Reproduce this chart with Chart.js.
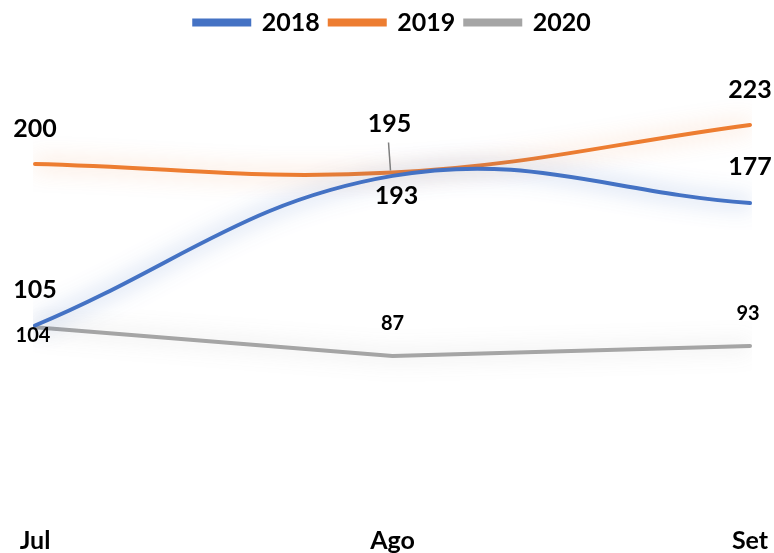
<!DOCTYPE html>
<html>
<head>
<meta charset="utf-8">
<script src="https://cdn.jsdelivr.net/npm/chart.js@4/dist/chart.umd.min.js"></script>
<style>
  html, body { margin:0; padding:0; background:#fff; }
</style>
</head>
<body>
<canvas id="chart" width="774" height="553"></canvas>
<script>
// dati
const months = ['Jul', 'Ago', 'Set'];
const seriesNames = ['2018', '2019', '2020'];
const values2018 = [105, 193, 177];
const values2019 = [200, 195, 223];
const values2020 = [104, 87, 93];

const colors = ['#4472C4', '#ED7D31', '#A5A5A5'];
const glows = ['rgba(68,114,196,0.7)', 'rgba(237,125,49,0.5)', 'rgba(120,120,120,0.35)'];
const FONT = 'Lato, "Open Sans", sans-serif';

// dove mettere le etichette rispetto al punto (dx, dy)
const labelOffsets = [
    [[0, -36], [4, 20], [0, -36]],
    [[0, -35], [-3, -49], [0, -35]],
    [[-2, 8], [0, -33], [-2, -32]]
];
const labelSizes = [25, 25, 20];

const glowPlugin = {
    id: 'glow',
    beforeDatasetDraw(chart, args) {
        const ctx = chart.ctx;
        ctx.save();
        ctx.shadowColor = glows[args.index];
        ctx.shadowBlur = 22;
    },
    afterDatasetDraw(chart) {
        chart.ctx.restore();
    }
};

const labelPlugin = {
    id: 'valueLabels',
    afterDatasetsDraw(chart) {
        const ctx = chart.ctx;
        ctx.save();
        ctx.fillStyle = '#000';
        ctx.textAlign = 'center';
        ctx.textBaseline = 'middle';
        chart.data.datasets.forEach((ds, i) => {
            const meta = chart.getDatasetMeta(i);
            ctx.font = 'bold ' + labelSizes[i] + 'px ' + FONT;
            meta.data.forEach((pt, j) => {
                const [dx, dy] = labelOffsets[i][j];
                ctx.fillText(ds.data[j], pt.x + dx, pt.y + dy);
                // linea guida per il 195
                if (i === 1 && j === 1) {
                    ctx.strokeStyle = '#7f7f7f';
                    ctx.lineWidth = 1.5;
                    ctx.beginPath();
                    ctx.moveTo(pt.x - 4, pt.y - 30);
                    ctx.lineTo(pt.x - 2, pt.y - 2);
                    ctx.stroke();
                }
            });
        });
        ctx.restore();
    }
};

new Chart(document.getElementById('chart'), {
    type: 'line',
    data: {
        labels: months,
        datasets: [
            { label: seriesNames[0], data: values2018, borderColor: colors[0], backgroundColor: colors[0], borderWidth: 4, tension: 0.4, pointRadius: 0, borderCapStyle: 'round' },
            { label: seriesNames[1], data: values2019, borderColor: colors[1], backgroundColor: colors[1], borderWidth: 4, tension: 0.4, pointRadius: 0, borderCapStyle: 'round' },
            { label: seriesNames[2], data: values2020, borderColor: colors[2], backgroundColor: colors[2], borderWidth: 4, tension: 0, pointRadius: 0, borderCapStyle: 'round' }
        ]
    },
    options: {
        responsive: false,
        animation: false,
        layout: { padding: { left: 35, right: 24, top: 0, bottom: 0 } },
        plugins: {
            legend: {
                position: 'top',
                labels: {
                    boxWidth: 55,
                    boxHeight: 4,
                    padding: 10,
                    color: '#000',
                    font: { family: FONT, size: 25, weight: 'bold' }
                }
            },
            tooltip: { enabled: false }
        },
        scales: {
            x: {
                offset: false,
                grid: { display: false },
                border: { display: false },
                ticks: { color: '#000', padding: 14, font: { family: FONT, size: 25, weight: 'bold' } },
                afterFit(scale) {
                    scale.height = 49;
                    scale.paddingLeft = 0;
                    scale.paddingRight = 0;
                }
            },
            y: {
                display: false,
                min: 0,
                max: 270
            }
        }
    },
    plugins: [glowPlugin, labelPlugin]
});
</script>
</body>
</html>
